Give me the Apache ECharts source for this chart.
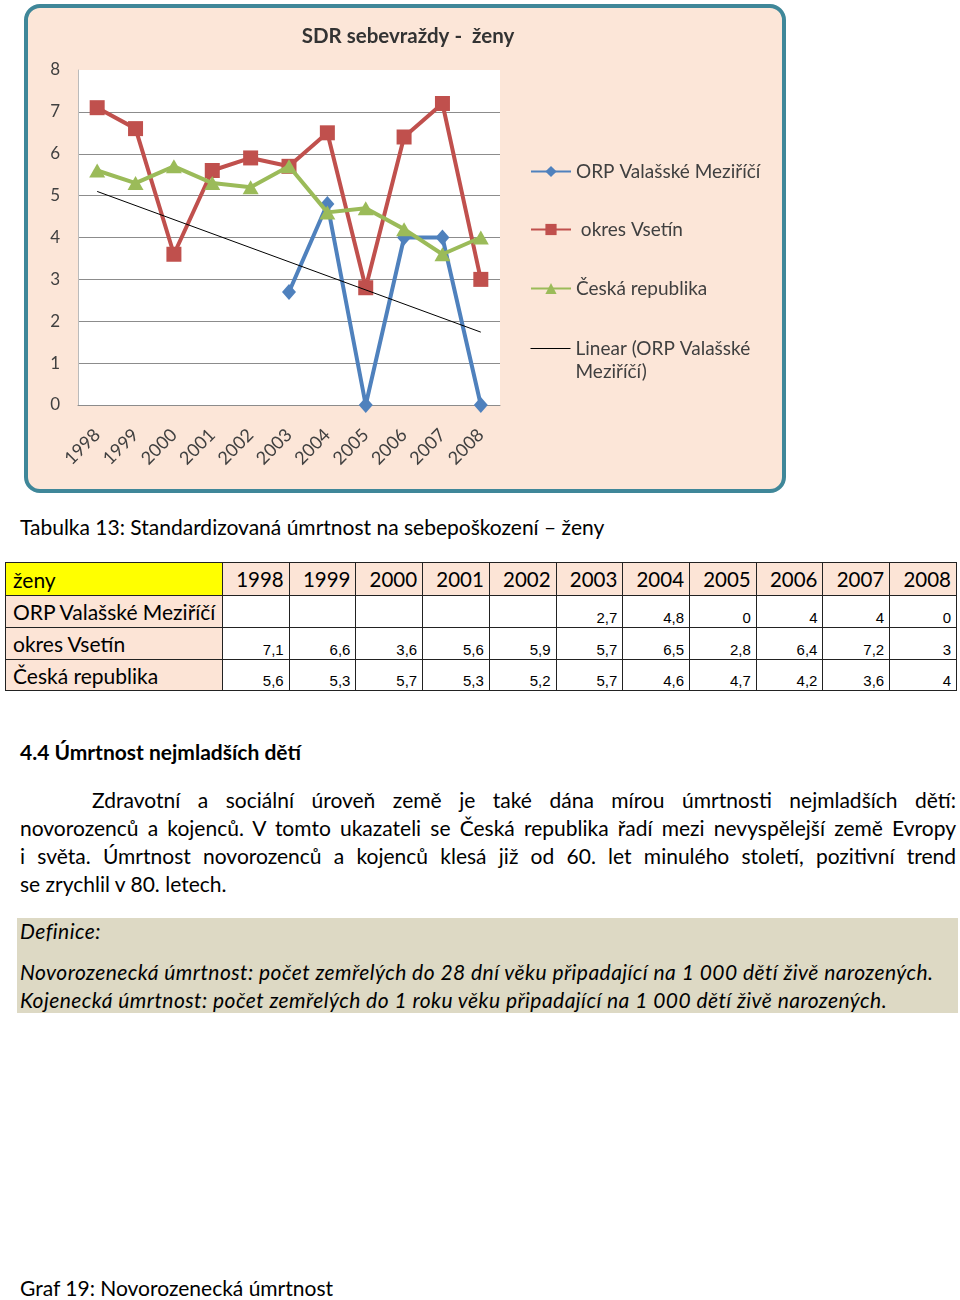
<!DOCTYPE html>
<html><head><meta charset="utf-8">
<script src="https://cdn.jsdelivr.net/npm/echarts@6/dist/echarts.min.js"></script>
<style>
html,body{margin:0;padding:0;background:#fff;}
body{width:960px;height:1300px;position:relative;font-family:Lato,"Open Sans",sans-serif;color:#000;overflow:hidden;}
.box{position:absolute;left:24px;top:4px;width:762px;height:489px;box-sizing:border-box;border:4px solid #3f8799;border-radius:16px;background:#fce6d8;}
#chart{position:absolute;left:0;top:0;width:960px;height:500px;}
.t{position:absolute;white-space:nowrap;font-size:21px;line-height:24px;}
table{position:absolute;left:5px;top:562px;border-collapse:collapse;table-layout:fixed;width:952px;}
td{border:1px solid #222;padding:0 5px;overflow:hidden;white-space:nowrap;}
td.lab{background:#fce4d6;font-size:21px;text-align:left;padding-left:7px;}
td.yr{background:#fce4d6;font-size:20.5px;text-align:right;}
td.v{background:#fff;font-family:"Liberation Sans",Arial,sans-serif;font-size:15px;text-align:right;vertical-align:bottom;padding-bottom:1px;}
.para{position:absolute;left:20px;width:936px;font-size:21px;}
.para div{height:28px;line-height:28px;text-align:justify;text-align-last:justify;white-space:normal;}
.para div.last{text-align-last:left;}
.def{position:absolute;left:17px;top:918px;width:941px;height:95px;background:#ddd9c4;}
.it{font-style:italic;letter-spacing:0.45px;}
</style></head><body>
<div class="box"></div>
<div id="chart"></div>

<div class="t" style="left:20px;top:515px;">Tabulka 13: Standardizovaná úmrtnost na sebepoškození – ženy</div>
<table id="tbl"></table>

<div class="t" style="left:20px;top:740px;font-weight:bold;">4.4 Úmrtnost nejmladších dětí</div>
<div class="para" style="top:786px;">
<div style="padding-left:72px;">Zdravotní a sociální úroveň země je také dána mírou úmrtnosti nejmladších dětí:</div>
<div>novorozenců a kojenců. V tomto ukazateli se Česká republika řadí mezi nevyspělejší země Evropy</div>
<div>i světa. Úmrtnost novorozenců a kojenců klesá již od 60. let minulého století, pozitivní trend</div>
<div class="last">se zrychlil v 80. letech.</div>
</div>
<div class="def"></div>
<div class="t it" style="left:20px;top:919px;">Definice:</div>
<div class="t it" style="left:20px;top:960px;">Novorozenecká úmrtnost: počet zemřelých do 28 dní věku připadající na 1 000 dětí živě narozených.</div>
<div class="t it" style="left:20px;top:988px;">Kojenecká úmrtnost: počet zemřelých do 1 roku věku připadající na 1 000 dětí živě narozených.</div>
<div class="t" style="left:20px;top:1276px;">Graf 19: Novorozenecká úmrtnost</div>

<script>
// ---- data ----
const years = ['1998','1999','2000','2001','2002','2003','2004','2005','2006','2007','2008'];
const orpValMez = [null, null, null, null, null, 2.7, 4.8, 0, 4, 4, 0];
const okresVsetin = [7.1, 6.6, 3.6, 5.6, 5.9, 5.7, 6.5, 2.8, 6.4, 7.2, 3];
const ceskaRep = [5.6, 5.3, 5.7, 5.3, 5.2, 5.7, 4.6, 4.7, 4.2, 3.6, 4];
// trendline endpoints (1998 and 2008)
const trendLine = [5.1, null, null, null, null, null, null, null, null, null, 1.74];
const yTicks = [0, 1, 2, 3, 4, 5, 6, 7, 8];
const seriesNames = ['ORP Valašské Meziříčí', 'okres Vsetín', 'Česká republika', 'Linear (ORP Valašské Meziříčí)'];
const tableTitle = 'ženy';

// ---- table ----
(function(){
  const fmt = v => v === null ? '' : String(v).replace('.', ',');
  let h = '<colgroup><col style="width:217px">' + years.map(()=>'<col>').join('') + '</colgroup>';
  h += '<tr style="height:33px"><td class="lab" style="background:#ffff00">' + tableTitle + '</td>' + years.map(y=>'<td class="yr">'+y+'</td>').join('') + '</tr>';
  const rows = [[seriesNames[0], orpValMez],[seriesNames[1], okresVsetin],[seriesNames[2], ceskaRep]];
  const hs = [32,32,31];
  rows.forEach((r,i)=>{
    h += '<tr style="height:'+hs[i]+'px"><td class="lab">' + r[0] + '</td>' + r[1].map(v=>'<td class="v">'+fmt(v)+'</td>').join('') + '</tr>';
  });
  document.getElementById('tbl').innerHTML = h;
})();

// ---- chart ----
const chart = echarts.init(document.getElementById('chart'), null, {renderer:'canvas'});
const FF = 'Lato';
const txt = '#404040';
function legendFor(name, top, extra){
  return Object.assign({
    show:true, orient:'vertical', left:525, top:top, itemWidth:40, itemHeight:14,
    data:[name], textStyle:{fontFamily:FF, fontSize:19, color:txt}, selectedMode:false
  }, extra||{});
}
chart.setOption({
  animation:false,
  title:{text:'SDR sebevraždy -  ženy', left:403, top:21, textAlign:'center',
    textStyle:{fontFamily:FF, fontSize:20.5, fontWeight:'bold', color:'#333'}},
  legend:[
    legendFor(seriesNames[0], 157),
    legendFor(seriesNames[1], 215, {formatter:n=>' '+n}),
    legendFor(seriesNames[2], 274),
    legendFor(seriesNames[3], 309, {formatter:n=>'\n'+n.replace(' Meziříčí','\nMeziříčí'),
      itemStyle:{opacity:0}, lineStyle:{color:'#000', width:1},
      textStyle:{fontFamily:FF, fontSize:19, color:txt, lineHeight:23}})
  ],
  grid:{left:78, top:70, width:422, height:335, show:true, backgroundColor:'#fff', borderWidth:0},
  xAxis:{type:'category', data:years, boundaryGap:true,
    axisLine:{lineStyle:{color:'#8c8c8c'}}, axisTick:{show:false},
    axisLabel:{rotate:45, margin:27, fontFamily:FF, fontSize:18, color:txt}},
  yAxis:{type:'value', min:yTicks[0], max:yTicks[yTicks.length-1], interval:1,
    axisLine:{show:true, lineStyle:{color:'#bbb'}}, axisTick:{show:false},
    axisLabel:{margin:18, fontFamily:FF, fontSize:17, color:txt},
    splitLine:{lineStyle:{color:['#8c8c8c','#8c8c8c','#8c8c8c','#8c8c8c','#8c8c8c','#8c8c8c','#8c8c8c','#8c8c8c','#fff'], width:1}}},
  series:[
    {name:seriesNames[0], type:'line', data:orpValMez, color:'#4F81BD', symbol:'diamond', symbolSize:[14,16],
      lineStyle:{width:4}, itemStyle:{color:'#4F81BD'}, z:2},
    {name:seriesNames[1], type:'line', data:okresVsetin, color:'#C0504D', symbol:'rect', symbolSize:15,
      lineStyle:{width:4}, itemStyle:{color:'#C0504D'}, z:3},
    {name:seriesNames[2], type:'line', data:ceskaRep, color:'#9BBB59', symbol:'triangle', symbolSize:[16,14],
      lineStyle:{width:4}, itemStyle:{color:'#9BBB59'}, z:4},
    {name:seriesNames[3], type:'line', data:trendLine, connectNulls:true, color:'#000', symbol:'none',
      lineStyle:{width:1, color:'#000'}, z:5}
  ]
});
</script>
</body></html>
